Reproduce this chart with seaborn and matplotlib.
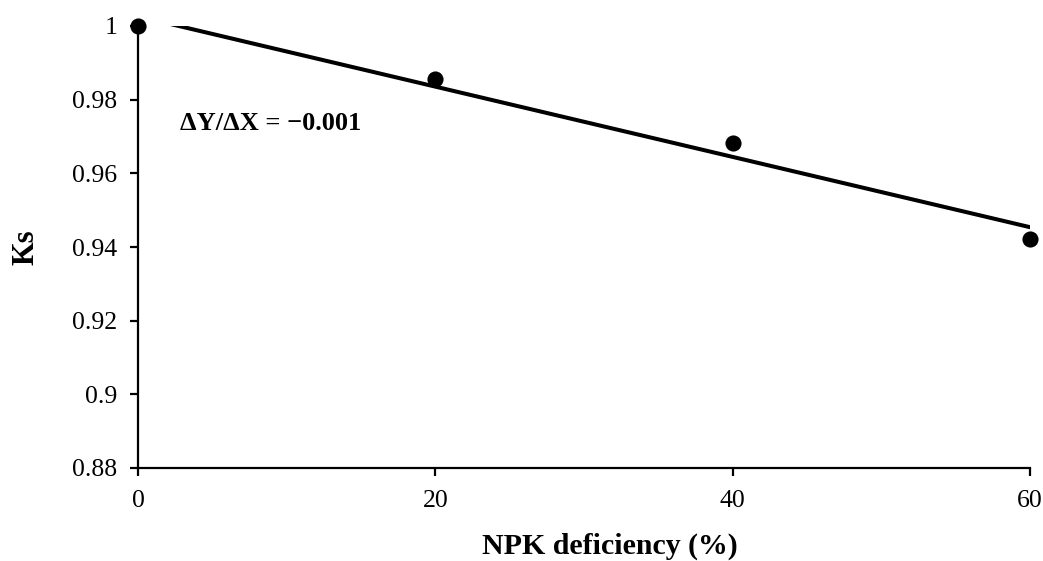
import matplotlib
matplotlib.use("Agg")
import matplotlib.pyplot as plt
import seaborn as sns
import pandas as pd
import numpy as np

# Data
npk_deficiency = [0, 20, 40, 60]
ks_values = [1.0, 0.9856, 0.9682, 0.9422]
x_ticks = [0, 20, 40, 60]
y_ticks = [0.88, 0.90, 0.92, 0.94, 0.96, 0.98, 1.00]
y_tick_labels = ["0.88", "0.9", "0.92", "0.94", "0.96", "0.98", "1"]
annotation_text = "\u0394Y/\u0394X = \u22120.001"

df = pd.DataFrame({"NPK": npk_deficiency, "Ks": ks_values})

sns.set_theme(style="ticks")
plt.rcParams["font.family"] = ["Liberation Serif", "DejaVu Serif"]
plt.rcParams["text.color"] = "black"
plt.rcParams["axes.labelcolor"] = "black"

fig = plt.figure(figsize=(10.43, 5.61), dpi=100)
ax = fig.add_axes([138 / 1043, 1 - 468 / 561, (1030 - 138) / 1043, (468 - 26) / 561])

sns.regplot(data=df, x="NPK", y="Ks", ax=ax, ci=None, truncate=True,
            scatter_kws=dict(s=135, color="black", alpha=1, zorder=5, clip_on=False, linewidths=0),
            line_kws=dict(color="black", lw=2.9))
for coll in ax.collections:
    coll.set_clip_on(False)

ax.set_xlim(0, 60)
ax.set_ylim(0.88, 1.0)
ax.set_xticks(x_ticks)
ax.set_xticklabels([str(t) for t in x_ticks])
ax.set_yticks(y_ticks)
ax.set_yticklabels(y_tick_labels)

sns.despine(ax=ax)
for side in ["left", "bottom"]:
    ax.spines[side].set_linewidth(1.6)
    ax.spines[side].set_color("black")

ax.tick_params(axis="both", labelsize=18.5, colors="black", labelcolor="black",
               length=6, width=1.6, direction="out")
ax.tick_params(axis="y", pad=9)
ax.tick_params(axis="x", pad=10)

ax.set_xlabel("NPK deficiency (%)", fontsize=21.5, fontweight="bold", color="black")
ax.xaxis.set_label_coords(0.5286, -0.147)
ax.set_ylabel("Ks", fontsize=22, fontweight="bold", labelpad=23, color="black")

ax.text(2.8, 0.9736, annotation_text, fontsize=19, fontweight="bold", va="center", ha="left",
        color="black")

fig.savefig("out.png", dpi=100, facecolor="white")
